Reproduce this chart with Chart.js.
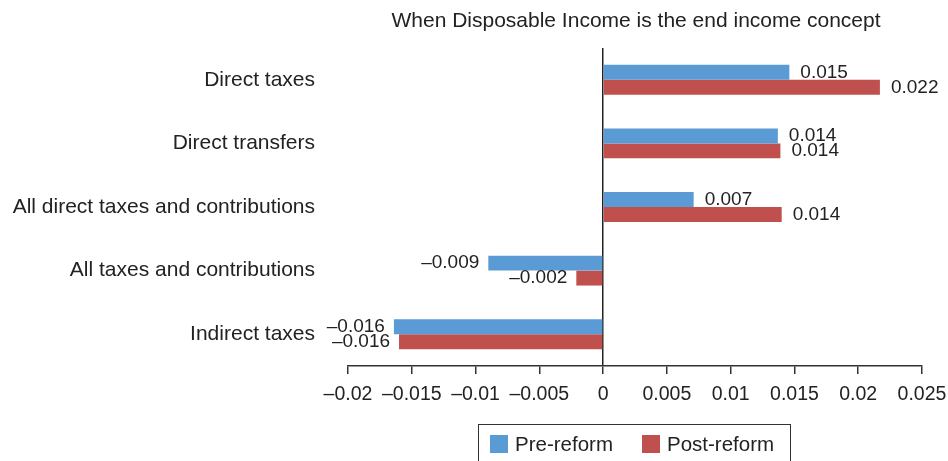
<!DOCTYPE html>
<html>
<head>
<meta charset="utf-8">
<script src="https://cdn.jsdelivr.net/npm/chart.js@4.4.1/dist/chart.umd.min.js"></script>
<style>
    html, body { margin: 0; padding: 0; background: #fff; }
    #wrap { width: 948px; height: 461px; }
</style>
</head>
<body>
<div id="wrap"><canvas id="incomeChart"></canvas></div>
<script>
// Change in redistributive effect, Disposable Income as end concept
const title = 'When Disposable Income is the end income concept';
const categories = [
    'Direct taxes',
    'Direct transfers',
    'All direct taxes and contributions',
    'All taxes and contributions',
    'Indirect taxes'
];
const preReform = [0.0146, 0.0137, 0.0071, -0.0090, -0.0164];
const postReform = [0.0217, 0.0139, 0.0140, -0.0021, -0.0160];
const xTicks = { min: -0.02, max: 0.025, step: 0.005 };

const FONT = '"Liberation Sans", Arial, Helvetica, sans-serif';
const TEXT = '#222';
const BLUE = '#5B9BD5';
const RED = '#C0504D';

function fmt(v) {
    const s = parseFloat(Math.abs(v).toFixed(3)).toString();
    return (v < 0 && Math.abs(v) > 1e-9 ? '\u2013' : '') + s;
}

// title + value labels + boxed legend, drawn relative to the plot area
const extras = {
    id: 'extras',
    afterDatasetsDraw(chart) {
        const ctx = chart.ctx;
        const area = chart.chartArea;
        ctx.save();
        ctx.fillStyle = TEXT;
        ctx.font = '21px ' + FONT;
        ctx.textBaseline = 'middle';
        ctx.textAlign = 'center';
        ctx.fillText(title, (area.left + area.right) / 2 + 1, 21);

        ctx.font = '19px ' + FONT;
        chart.data.datasets.forEach((ds, i) => {
            chart.getDatasetMeta(i).data.forEach((bar, j) => {
                const v = ds.data[j];
                ctx.textAlign = v < 0 ? 'right' : 'left';
                const x = v < 0 ? bar.x - 9 : bar.x + 11;
                ctx.fillText(fmt(v), x, bar.y);
            });
        });

        // legend box
        ctx.strokeStyle = '#333';
        ctx.lineWidth = 1;
        ctx.strokeRect(478.5, 424.5, 312, 50);
        ctx.textAlign = 'left';
        ctx.font = '20.5px ' + FONT;
        const items = [
            { label: 'Pre-reform', color: BLUE, x: 490 },
            { label: 'Post-reform', color: RED, x: 642 }
        ];
        items.forEach(it => {
            ctx.fillStyle = it.color;
            ctx.fillRect(it.x, 435, 18, 18);
            ctx.fillStyle = TEXT;
            ctx.fillText(it.label, it.x + 25, 445);
        });
        ctx.restore();
    }
};

window.addEventListener('load', () => {
    const ctx = document.getElementById('incomeChart').getContext('2d');
    new Chart(ctx, {
        type: 'bar',
        data: {
            labels: categories,
            datasets: [
                {
                    label: 'Pre-reform',
                    data: preReform,
                    backgroundColor: BLUE,
                    barPercentage: 1,
                    categoryPercentage: 0.47,
                },
                {
                    label: 'Post-reform',
                    data: postReform,
                    backgroundColor: RED,
                    barPercentage: 1,
                    categoryPercentage: 0.47,
                }
            ]
        },
        options: {
            indexAxis: 'y',
            responsive: true,
            maintainAspectRatio: false,
            animation: false,
            layout: {
                padding: { top: 48, right: 26, left: 0, bottom: 0 }
            },
            scales: {
                x: {
                    min: xTicks.min,
                    max: xTicks.max,
                    afterFit: (scale) => {
                        scale.height = 95;
                        scale.paddingLeft = 0;
                        scale.paddingRight = 0;
                    },
                    ticks: {
                        stepSize: xTicks.step,
                        autoSkip: false,
                        maxRotation: 0,
                        minRotation: 0,
                        color: TEXT,
                        padding: 9,
                        font: { family: FONT, size: 19.5 },
                        callback: (value) => fmt(value),
                    },
                    grid: {
                        drawOnChartArea: true,
                        color: (c) => (c.tick && Math.abs(c.tick.value) < 1e-9) ? '#222' : 'rgba(0,0,0,0)',
                        lineWidth: 1.5,
                        tickColor: '#333',
                        tickLength: 8,
                    },
                    border: { display: true, color: '#333', width: 1.5 }
                },
                y: {
                    afterFit: (scale) => { scale.width = 348; },
                    ticks: {
                        color: TEXT,
                        padding: 33,
                        font: { family: FONT, size: 21 },
                    },
                    grid: { display: false, drawTicks: false },
                    border: { display: false }
                }
            },
            plugins: {
                legend: { display: false },
                title: { display: false },
                tooltip: { enabled: false }
            }
        },
        plugins: [extras]
    });
});
</script>
</body>
</html>
